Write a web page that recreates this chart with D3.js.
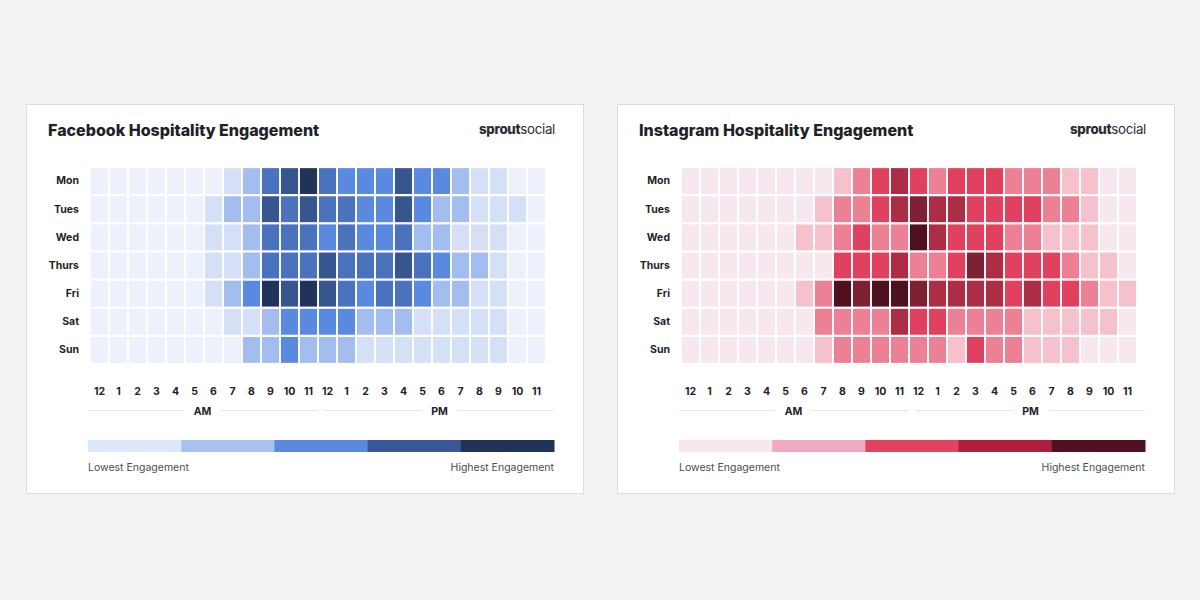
<!DOCTYPE html>
<html>
<head>
<meta charset="utf-8">
<script src="https://cdn.jsdelivr.net/npm/d3@7"></script>
<style>
  html, body { margin: 0; padding: 0; background: #f3f3f3; }
  svg { display: block; }
</style>
</head>
<body>
<svg id="chart" width="1200" height="600"></svg>
<script>
const days = ["Mon", "Tues", "Wed", "Thurs", "Fri", "Sat", "Sun"];
const hourLabels = ["12","1","2","3","4","5","6","7","8","9","10","11","12","1","2","3","4","5","6","7","8","9","10","11"];

// Engagement level (0 = lowest .. 6 = highest), one row per day, 24 hours
const facebookLevels = [
  [0,0,0,0,0,0,0,1,2,4,5,6,4,3,3,3,5,3,3,2,1,1,0,0],
  [0,0,0,0,0,0,1,2,2,5,4,5,4,4,3,3,5,3,2,2,1,1,1,0],
  [0,0,0,0,0,0,1,1,2,4,4,4,3,4,3,3,4,2,2,1,1,1,0,0],
  [0,0,0,0,0,0,1,1,2,4,4,4,5,4,4,4,5,4,3,2,2,1,0,0],
  [0,0,0,0,0,0,1,2,3,6,5,6,5,4,3,4,4,3,2,2,1,1,0,0],
  [0,0,0,0,0,0,0,1,1,2,3,3,3,3,2,2,2,1,1,1,1,1,0,0],
  [0,0,0,0,0,0,0,0,2,2,3,2,2,2,1,1,1,1,1,1,1,1,0,0]
];
const instagramLevels = [
  [0,0,0,0,0,0,0,0,1,2,3,4,3,2,3,3,3,2,2,2,1,1,0,0],
  [0,0,0,0,0,0,0,1,2,2,3,4,5,4,4,3,3,3,3,2,2,1,0,0],
  [0,0,0,0,0,0,1,1,2,3,2,2,6,4,3,3,3,2,2,1,1,1,0,0],
  [0,0,0,0,0,0,0,0,3,3,3,4,2,2,3,5,4,3,3,3,2,1,1,0],
  [0,0,0,0,0,0,1,2,6,5,6,6,5,4,4,4,4,3,4,3,3,2,1,1],
  [0,0,0,0,0,0,0,2,2,2,2,4,3,3,2,2,2,2,1,1,1,1,1,0],
  [0,0,0,0,0,0,0,1,2,2,2,2,2,2,1,3,2,2,1,1,1,0,0,0]
];

const facebookCellColors = ["#edf1fb","#d5e0f6","#a3bdee","#5a8ae0","#4a72bd","#37558f","#22335a"];
const instagramCellColors = ["#f6e8ee","#f5c1cc","#ec8095","#e0415f","#ab2d46","#7f2135","#4e1120"];
const facebookLegend = ["#dce9fa","#a9c3ef","#5a89de","#3b5797","#213257"];
const instagramLegend = ["#f6e8ee","#eeaabf","#e4435f","#ad1f3c","#4f1120"];

const panels = [
  { title: "Facebook Hospitality Engagement", levels: facebookLevels, cellColors: facebookCellColors, legend: facebookLegend, x0: 26 },
  { title: "Instagram Hospitality Engagement", levels: instagramLevels, cellColors: instagramCellColors, legend: instagramLegend, x0: 617 }
];

const FONT = "Inter, Lato, sans-serif";
const svg = d3.select("#chart").attr("font-family", FONT);
svg.append("rect").attr("width", 1200).attr("height", 600).attr("fill", "#f3f3f3");

panels.forEach(p => {
  const g = svg.append("g").attr("transform", `translate(${p.x0},0)`);
  // card
  g.append("rect").attr("x", 0.5).attr("y", 104.5).attr("width", 557).attr("height", 389)
    .attr("fill", "#ffffff").attr("stroke", "#dcdcdc").attr("stroke-width", 1);

  g.append("text").attr("x", 22).attr("y", 136).text(p.title)
    .attr("font-family", FONT)
    .attr("font-size", 16).attr("font-weight", 800).attr("fill", "#1e2226");

  const logo = g.append("text").attr("x", 529).attr("y", 133.5).attr("text-anchor", "end")
    .attr("font-family", FONT)
    .attr("font-size", 13.3).attr("fill", "#2a2e33").attr("letter-spacing", -0.3);
  logo.append("tspan").attr("font-weight", 800).text("sprout");
  logo.append("tspan").attr("font-weight", 400).text("social");

  const x = d3.scaleBand().domain(d3.range(24)).range([64, 520]).paddingInner(0.1).paddingOuter(0.05);
  const y = d3.scaleBand().domain(days).range([167, 364]).paddingInner(0.08).paddingOuter(0.04);
  const color = d3.scaleOrdinal().domain(d3.range(7)).range(p.cellColors);

  const cells = [];
  p.levels.forEach((row, di) => row.forEach((v, hi) => cells.push({ day: days[di], hour: hi, v })));
  g.append("g").selectAll("rect").data(cells).join("rect")
    .attr("x", d => x(d.hour)).attr("y", d => y(d.day))
    .attr("width", x.bandwidth()).attr("height", y.bandwidth())
    .attr("fill", d => color(d.v));

  // day axis
  const yAxis = g.append("g").attr("transform", "translate(53,0)")
    .call(d3.axisLeft(y).tickSize(0).tickPadding(0));
  yAxis.attr("font-family", FONT);
  yAxis.select(".domain").remove();
  yAxis.selectAll("text").attr("font-size", 10.5).attr("font-weight", 700).attr("fill", "#1e2226");

  // hour axis
  const xAxis = g.append("g").attr("transform", "translate(0,388)")
    .call(d3.axisBottom(x).tickSize(0).tickPadding(0).tickFormat(i => hourLabels[i]));
  xAxis.attr("font-family", FONT);
  xAxis.select(".domain").remove();
  xAxis.selectAll("text").attr("font-size", 10.5).attr("font-weight", 700).attr("fill", "#1e2226");

  // AM / PM dividers
  const halves = [{ label: "AM", a: 62, b: 291 }, { label: "PM", a: 299, b: 528 }];
  halves.forEach(h => {
    const mid = (h.a + h.b) / 2;
    g.append("line").attr("x1", h.a).attr("x2", mid - 18).attr("y1", 410.5).attr("y2", 410.5)
      .attr("stroke", "#e6e6e6");
    g.append("line").attr("x1", mid + 18).attr("x2", h.b).attr("y1", 410.5).attr("y2", 410.5)
      .attr("stroke", "#e6e6e6");
    g.append("text").attr("x", mid).attr("y", 414.5).attr("text-anchor", "middle")
      .attr("font-size", 10.5).attr("font-weight", 700).attr("fill", "#1e2226").text(h.label);
  });

  // legend
  const lx = d3.scaleBand().domain(d3.range(p.legend.length)).range([62, 528]);
  g.append("g").selectAll("rect").data(p.legend).join("rect")
    .attr("x", (d, i) => lx(i)).attr("y", 440).attr("width", lx.bandwidth() + 0.5).attr("height", 12)
    .attr("fill", d => d);
  g.append("text").attr("x", 62).attr("y", 471).text("Lowest Engagement")
    .attr("font-size", 10.5).attr("fill", "#4a4d50");
  g.append("text").attr("x", 528).attr("y", 471).attr("text-anchor", "end").text("Highest Engagement")
    .attr("font-size", 10.5).attr("fill", "#4a4d50");
});
</script>
</body>
</html>
